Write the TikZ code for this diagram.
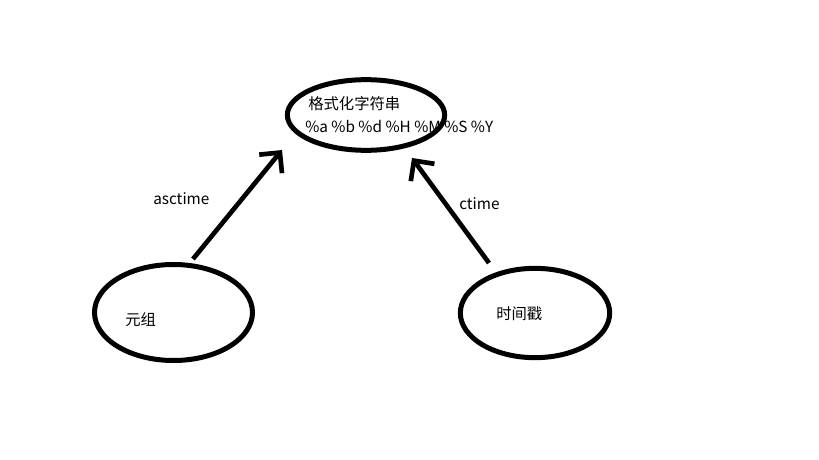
\documentclass[tikz,border=0pt]{standalone}
\usepackage{fontspec}
\setmainfont{Noto Sans CJK SC}
\usetikzlibrary{arrows.meta,shapes.geometric}
\begin{document}
\begin{tikzpicture}[x=0.75pt,y=-0.75pt,
  ell/.style={draw=black,ellipse,line width=3.75pt,inner sep=0pt},
  lbl/.style={anchor=west,inner sep=0pt,font=\fontsize{11.5pt}{13.5pt}\selectfont},
  arr/.style={line width=3.5pt,-{Straight Barb[length=11pt,width=22pt,line width=3.5pt]}}]
\useasboundingbox (0,0) rectangle (819,460);
\fill[white] (0,0) rectangle (819,460);
\node[ell,minimum width=118pt,minimum height=53pt] (fmt) at (366,115) {};
\node[ell,minimum width=118.5pt,minimum height=72pt] (tuple) at (173.5,312.5) {};
\node[ell,minimum width=112pt,minimum height=67pt] (stamp) at (535,313) {};
\node[lbl] (fmtt) at (308,104) {格式化字符串};
\node[lbl] (fmtc) at (305,126) {\%a \%b \%d \%H \%M \%S \%Y};
\node[lbl] (tuplet) at (125,320) {元组};
\node[lbl] (stampt) at (496,314) {时间戳};
\node[lbl] (asc) at (153,199) {asctime};
\node[lbl] (ct) at (459,204) {ctime};
\coordinate (a1s) at (193,259);
\coordinate (a1e) at (282,150);
\coordinate (a2s) at (489,263);
\coordinate (a2e) at (412,158);
\draw[arr] (a1s) -- (a1e);
\draw[arr] (a2s) -- (a2e);
\end{tikzpicture}
\end{document}
